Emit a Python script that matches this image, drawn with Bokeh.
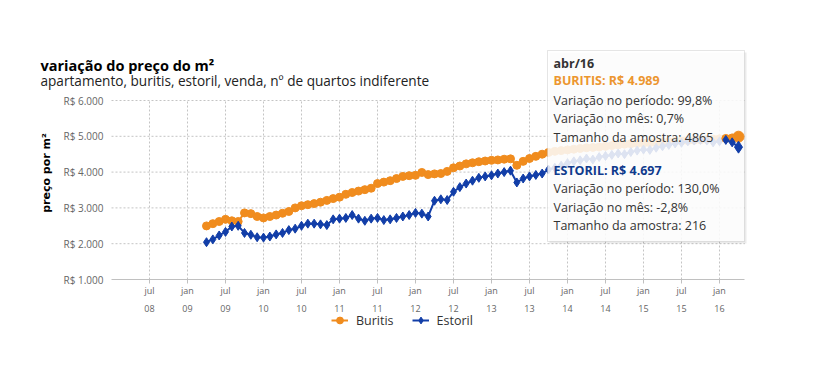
from bokeh.plotting import figure
from bokeh.models import (Range1d, FixedTicker, BoxAnnotation, Label, Legend, LegendItem, LinearAxis)
from bokeh.embed import file_html
from bokeh.resources import INLINE

# ---------------- data ----------------
start_year, start_month = 2009, 4  # first month of the series (abr/09)

buritis = [
    2497, 2560, 2620, 2680, 2640, 2620, 2860, 2840, 2760,
    2720, 2760, 2800, 2850, 2900, 3000, 3060, 3090, 3120, 3160, 3210, 3260,
    3300, 3380, 3430, 3470, 3510, 3550, 3680, 3720, 3760, 3820, 3880, 3900,
    3910, 3990, 3930, 3950, 3960, 4020, 4120, 4170, 4230, 4260, 4290, 4310,
    4330, 4340, 4360, 4370, 4190, 4300, 4380, 4440, 4500, 4550, 4580, 4600,
    4620, 4640, 4660, 4680, 4690, 4700, 4720, 4740, 4760, 4780, 4790, 4800,
    4810, 4820, 4830, 4840, 4850, 4860, 4870, 4880, 4890, 4900, 4910, 4920,
    4930, 4940, 4954, 4989,
]
estoril = [
    2042, 2120, 2230, 2330, 2480, 2500, 2300, 2250, 2180,
    2170, 2200, 2260, 2300, 2380, 2420, 2500, 2560, 2560, 2540, 2520, 2680,
    2700, 2720, 2800, 2700, 2640, 2700, 2720, 2660, 2680, 2720, 2760, 2800,
    2860, 2840, 2760, 3200, 3240, 3220, 3450, 3580, 3680, 3760, 3840, 3880,
    3910, 3960, 4000, 4040, 3710, 3820, 3880, 3920, 3960, 4070, 4120, 4180,
    4250, 4300, 4330, 4380, 4350, 4420, 4450, 4480, 4520, 4500, 4560, 4600,
    4630, 4620, 4680, 4720, 4760, 4800, 4820, 4860, 4880, 4900, 4880, 4830,
    4860, 4900, 4832, 4697,
]

# x is counted in months since jan/08
x_tick_months = [6, 12, 18, 24, 30, 36, 42, 48, 54, 60, 66, 72, 78, 84, 90, 96]
x_tick_labels = ["jul\n08", "jan\n09", "jul\n09", "jan\n10", "jul\n10", "jan\n11",
                 "jul\n11", "jan\n12", "jul\n12", "jan\n13", "jul\n13", "jan\n14",
                 "jul\n14", "jan\n15", "jul\n15", "jan\n16"]
y_ticks = [1000, 2000, 3000, 4000, 5000, 6000]
y_tick_labels = ["R$ 1.000", "R$ 2.000", "R$ 3.000", "R$ 4.000", "R$ 5.000", "R$ 6.000"]
plot_x_span = (0, 100)  # jan/08 .. mai/16: extent of axis and grid

tooltip_lines = [
    ("abr/16", "#333333", "bold"),
    ("BURITIS: R$ 4.989", "#ec962f", "bold"),
    ("Variação no período: 99,8%", "#333333", "normal"),
    ("Variação no mês: 0,7%", "#333333", "normal"),
    ("Tamanho da amostra: 4865", "#333333", "normal"),
    ("ESTORIL: R$ 4.697", "#0f3a8c", "bold"),
    ("Variação no período: 130,0%", "#333333", "normal"),
    ("Variação no mês: -2,8%", "#333333", "normal"),
    ("Tamanho da amostra: 216", "#333333", "normal"),
]

ORANGE = "#f08c1e"
BLUE = "#123ea8"
FONT = "Open Sans"
GRID = "#c4c4c4"

x0 = (start_year - 2008) * 12 + (start_month - 1)
xs = [x0 + i for i in range(len(buritis))]

# frame in picture pixels; 6.333 px per month, 35.8 px per R$1000
W, H = 797, 345
PXM = 589.0 / 93.0
PXV = 179.0 / 5000.0
FL, FR, FT, FB = 0, W, 0, H
XR = (6 - (149 - FL) / PXM, 6 + (FR - 149) / PXM)
YR = (1000 - (FB - 279) / PXV, 1000 + (279 - FT) / PXV)

def dx(px):
    return XR[0] + (px - FL) / PXM

def dy(py):
    return YR[0] + (FB - py) / PXV

p = figure(width=W, height=H, x_range=Range1d(*XR), y_range=Range1d(*YR),
           output_backend="svg", toolbar_location=None,
           x_axis_location=None, y_axis_location=None,
           min_border_left=0, min_border_right=0, min_border_top=0, min_border_bottom=0)
p.outline_line_color = None
p.background_fill_color = "white"
p.border_fill_color = "white"
p.xgrid.visible = False
p.ygrid.visible = False

# x axis fixed at R$ 1.000
xaxis = LinearAxis(fixed_location=y_ticks[0], ticker=FixedTicker(ticks=x_tick_months),
                   bounds=plot_x_span,
                   major_label_overrides={m: l for m, l in zip(x_tick_months, x_tick_labels)},
                   axis_line_color="#c0c0c0", major_tick_line_color="#c0c0c0",
                   major_tick_out=4, major_tick_in=0, minor_tick_line_color=None,
                   major_label_text_font=FONT, major_label_text_font_size="9px",
                   major_label_text_color="#666666", major_label_text_line_height=1.4,
                   major_label_standoff=0)
p.add_layout(xaxis, "below")

# y axis fixed at the start of the plot area
yaxis = LinearAxis(fixed_location=plot_x_span[0], ticker=FixedTicker(ticks=y_ticks),
                   major_label_overrides={v: l for v, l in zip(y_ticks, y_tick_labels)},
                   axis_line_color=None, major_tick_line_color=None, minor_tick_line_color=None,
                   major_label_text_font=FONT, major_label_text_font_size="10px",
                   major_label_text_color="#666666", major_label_standoff=2,
                   axis_label="preço por m²", axis_label_text_font="DejaVu Sans",
                   axis_label_text_font_style="bold", axis_label_text_font_size="11px",
                   axis_label_text_color="#000000", axis_label_standoff=8)
p.add_layout(yaxis, "left")

# dashed grid over the plot area
p.segment(x0=[plot_x_span[0]] * len(y_ticks[1:]), x1=[plot_x_span[1]] * len(y_ticks[1:]),
          y0=y_ticks[1:], y1=y_ticks[1:], line_color=GRID, line_dash="2 2", line_width=1)
p.segment(x0=x_tick_months, x1=x_tick_months, y0=[y_ticks[0]] * len(x_tick_months),
          y1=[y_ticks[-1]] * len(x_tick_months), line_color=GRID, line_dash="2 2", line_width=1)

# series
lb = p.line(xs, buritis, line_color=ORANGE, line_width=2)
sb = p.scatter(xs, buritis, marker="circle", size=8, fill_color=ORANGE, line_color=ORANGE)
le = p.line(xs, estoril, line_color=BLUE, line_width=2)
se = p.scatter(xs, estoril, marker="diamond", size=9, fill_color=BLUE, line_color=BLUE)

# tooltip box
p.add_layout(BoxAnnotation(left=dx(549), right=dx(746), top=dy(52), bottom=dy(243),
                           fill_color="#000000", fill_alpha=0.08, line_color=None))
p.add_layout(BoxAnnotation(left=dx(547), right=dx(744), top=dy(50), bottom=dy(241),
                           fill_color="white", fill_alpha=0.86, line_color="#a8a8a8", line_width=1))
line_y = [63, 80, 100, 118, 137, 170, 188, 207, 225]
for (txt, col, style), ypx in zip(tooltip_lines, line_y):
    p.add_layout(Label(x=dx(553), y=dy(ypx), text=txt, text_font=FONT, text_font_size="12.5px",
                       text_color=col, text_font_style=style, text_baseline="middle"))

# hovered points drawn on top of the tooltip
n_hi = 3
p.line(xs[-n_hi:], buritis[-n_hi:], line_color=ORANGE, line_width=2, level="overlay")
p.scatter(xs[-n_hi:-1], buritis[-n_hi:-1], marker="circle", size=8, fill_color=ORANGE,
          line_color=ORANGE, level="overlay")
p.scatter(xs[-1:], buritis[-1:], marker="circle", size=11, fill_color=ORANGE,
          line_color=ORANGE, level="overlay")
p.line(xs[-n_hi:], estoril[-n_hi:], line_color=BLUE, line_width=2, level="overlay")
p.scatter(xs[-n_hi:-1], estoril[-n_hi:-1], marker="diamond", size=9, fill_color=BLUE,
          line_color=BLUE, level="overlay")
p.scatter(xs[-1:], estoril[-1:], marker="diamond", size=12, fill_color=BLUE,
          line_color=BLUE, level="overlay")

# titles
p.add_layout(Label(x=dx(40), y=dy(65), text="variação do preço do m²", text_font=FONT,
                   text_font_size="14.5px", text_font_style="bold", text_color="#000000",
                   text_baseline="middle"))
p.add_layout(Label(x=dx(40), y=dy(80), text="apartamento, buritis, estoril, venda, nº de quartos indiferente",
                   text_font=FONT, text_font_size="13.6px", text_color="#222222", text_baseline="middle"))

# legend (bottom-left corner given in frame pixels)
legend = Legend(items=[LegendItem(label="Buritis", renderers=[lb, sb]),
                       LegendItem(label="Estoril", renderers=[le, se])],
                orientation="horizontal", location=(331 - FL, FB - 330),
                label_text_font=FONT, label_text_font_size="12.5px", label_text_color="#333333",
                border_line_color=None, background_fill_alpha=0, padding=0, margin=0,
                spacing=18, glyph_width=17, label_standoff=8)
p.add_layout(legend)

open("out.html", "w").write(file_html(p, INLINE))
